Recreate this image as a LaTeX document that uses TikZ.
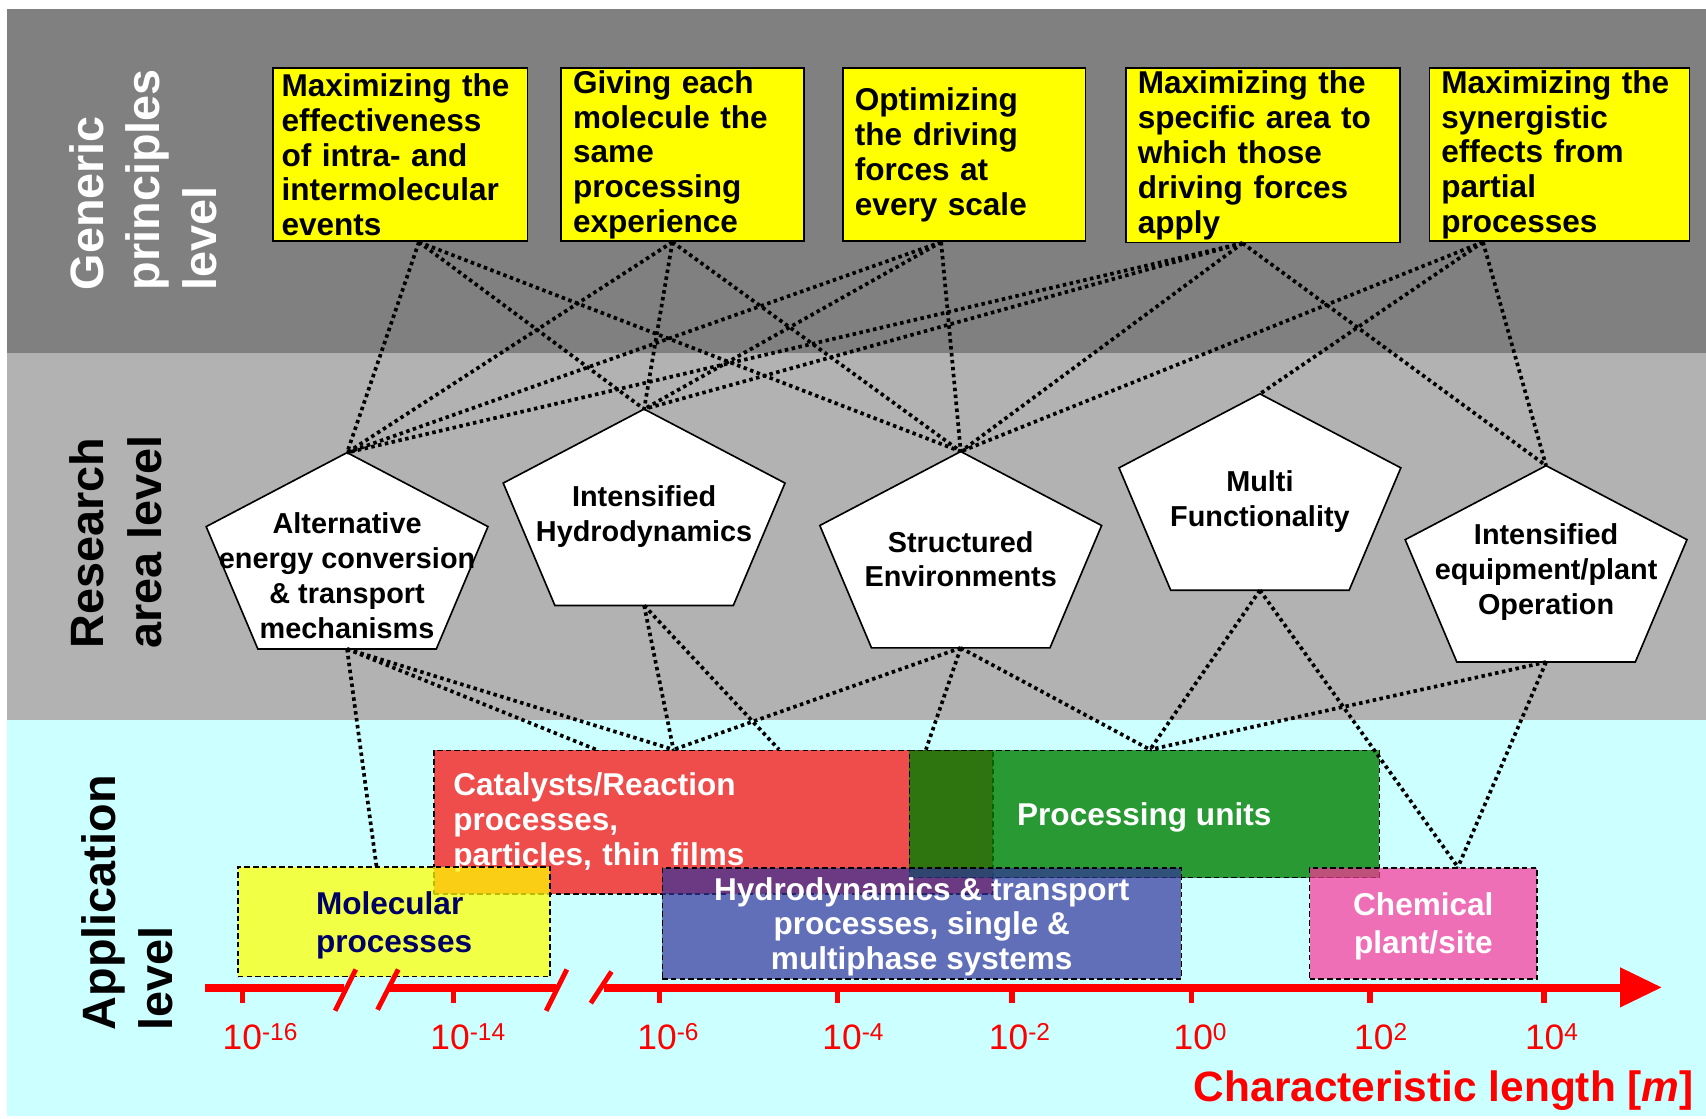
\documentclass[tikz,border=0pt]{standalone}
\usepackage{fontspec}
\setmainfont{Liberation Sans}
\usetikzlibrary{calc}

\definecolor{bandtop}{RGB}{128,128,128}
\definecolor{bandmid}{RGB}{178,178,178}
\definecolor{bandlow}{RGB}{204,255,255}
\definecolor{principlefill}{RGB}{255,255,0}
\definecolor{catred}{RGB}{255,0,0}
\definecolor{procgreen}{RGB}{0,128,0}
\definecolor{molyellow}{RGB}{255,255,0}
\definecolor{hydroblue}{RGB}{51,51,153}
\definecolor{plantpink}{RGB}{255,51,153}
\definecolor{molnavy}{RGB}{0,0,102}
\definecolor{scalered}{RGB}{255,0,0}

\newcommand{\sciexp}[1]{10\raisebox{8.5pt}{\fontsize{22.5}{22.5}\selectfont #1}}

\tikzset{
  rowlabel/.style={rotate=90, anchor=base west, inner sep=0pt,
    font=\fontsize{43}{43}\selectfont\bfseries},
  principle/.style={draw=black, line width=1.5pt, fill=principlefill,
    anchor=north west, inner ysep=0pt, inner xsep=11pt, align=left,
    minimum height=159pt,
    font=\fontsize{29}{32}\selectfont\bfseries},
  pentext/.style={align=center, inner sep=0pt,
    font=\fontsize{26.5}{32}\selectfont\bfseries},
  appbox/.style={draw=black, line width=1.4pt, dash pattern=on 5pt off 3pt,
    anchor=north west, inner sep=0pt, text=white, text opacity=1,
    font=\fontsize{29}{32}\selectfont\bfseries},
  link/.style={black, line width=3.4pt, dash pattern=on 3.2pt off 3.2pt},
  scaleline/.style={draw=scalered, line width=7pt},
  scaleslash/.style={draw=scalered, line width=4.5pt},
  scaletick/.style={draw=scalered, line width=5pt},
  scalelabel/.style={anchor=base, inner sep=0pt, text=scalered,
    font=\fontsize{32.5}{32.5}\selectfont},
  pentagon/.pic={
    \draw[line width=1.5pt, fill=white] (0,0) coordinate (-top)
      -- (129.5,68) -- (82,180.5) -- (-82,180.5) -- (-129.5,68) -- cycle;
    \coordinate (-bot) at (0,180.5);
  }
}

\begin{document}
\begin{tikzpicture}[x=1pt, y=-1pt]
\useasboundingbox (0,0) rectangle (1568,1028);

% level bands
\fill[white] (0,0) rectangle (1568,1028);
\fill[bandtop] (6,8) rectangle (1568,324);
\fill[bandmid] (6,324) rectangle (1568,662);
\fill[bandlow] (6,662) rectangle (1568,1026);

% level titles
\node[rowlabel, text=white] (genA) at (95,267) {Generic};
\node[rowlabel, text=white] (genB) at (147,267) {principles};
\node[rowlabel, text=white] (genC) at (199,267) {level};
\node[rowlabel] (resA) at (95,596) {Research};
\node[rowlabel] (resB) at (148,596) {area level};
\node[rowlabel] (appA) at (106,947) {Application};
\node[rowlabel] (appB) at (159,947) {level};

% generic principles
\node[principle, text width=218pt, inner xsep=8pt] (gp1) at (250,62)
  {Maximizing the\\effectiveness\\of intra- and\\intermolecular\\events};
\node[principle, text width=201pt] (gp2) at (515,62)
  {Giving each\\molecule the\\same\\processing\\experience};
\node[principle, text width=201pt] (gp3) at (774,62)
  {Optimizing\\the driving\\forces at\\every scale};
\node[principle, text width=230pt, minimum height=160pt] (gp4) at (1034,62)
  {Maximizing the\\specific area to\\which those\\driving forces\\apply};
\node[principle, text width=217pt] (gp5) at (1313,62)
  {Maximizing the\\synergistic\\effects from\\partial\\processes};

% research areas
\pic (ra1) at (319,416) {pentagon};
\pic (ra2) at (592,376) {pentagon};
\pic (ra3) at (883,415) {pentagon};
\pic (ra4) at (1158,362) {pentagon};
\pic (ra5) at (1421,428) {pentagon};
\node[pentext] (ra1t) at (319,529) {Alternative\\energy conversion\\\& transport\\mechanisms};
\node[pentext] (ra2t) at (592,475) {Intensified\\Hydrodynamics};
\node[pentext] (ra3t) at (883,514) {Structured\\Environments};
\node[pentext] (ra4t) at (1158,461) {Multi\\Functionality};
\node[pentext] (ra5t) at (1421,526) {Intensified\\equipment/plant\\Operation};

% application fields
\node[appbox, fill=catred, fill opacity=0.7, minimum width=514pt,
  minimum height=132pt, text width=478pt, align=left] (cat) at (398,689)
  {Catalysts/Reaction\\processes,\\particles, thin films};
\node[appbox, fill=procgreen, fill opacity=0.8, minimum width=432pt,
  minimum height=117pt, text depth=0pt] (proc) at (835,689) {Processing units};
\node[appbox, fill=molyellow, fill opacity=0.73, text=molnavy,
  minimum width=287pt, minimum height=101pt, align=left, text depth=0pt,
  font=\fontsize{29}{35}\selectfont\bfseries] (mol) at (218,796)
  {Molecular\\processes};
\node[appbox, fill=hydroblue, fill opacity=0.7, minimum width=477pt,
  minimum height=102pt, align=center, text depth=0pt] (hydro) at (608,797)
  {Hydrodynamics \& transport\\processes, single \&\\multiphase systems};
\node[appbox, fill=plantpink, fill opacity=0.7, minimum width=209pt,
  minimum height=102pt, align=center, text depth=0pt,
  font=\fontsize{29}{35}\selectfont\bfseries] (plant) at (1203,797)
  {Chemical\\plant/site};

% principles -> research areas
\draw[link] ([xshift=135pt]gp1.south west) -- (ra1-top);
\draw[link] ([xshift=135pt]gp1.south west) -- (ra2-top);
\draw[link] ([xshift=135pt]gp1.south west) -- (ra3-top);
\draw[link] ([xshift=103pt]gp2.south west) -- (ra1-top);
\draw[link] ([xshift=103pt]gp2.south west) -- (ra2-top);
\draw[link] ([xshift=103pt]gp2.south west) -- (ra3-top);
\draw[link] ([xshift=91pt]gp3.south west) -- (ra1-top);
\draw[link] ([xshift=91pt]gp3.south west) -- (ra2-top);
\draw[link] ([xshift=91pt]gp3.south west) -- (ra3-top);
\draw[link] ([xshift=108pt]gp4.south west) -- (ra1-top);
\draw[link] ([xshift=108pt]gp4.south west) -- (ra2-top);
\draw[link] ([xshift=108pt]gp4.south west) -- (ra3-top);
\draw[link] ([xshift=108pt]gp4.south west) -- (ra5-top);
\draw[link] ([xshift=50pt]gp5.south west) -- (ra3-top);
\draw[link] ([xshift=50pt]gp5.south west) -- (ra4-top);
\draw[link] ([xshift=50pt]gp5.south west) -- (ra5-top);

% research areas -> applications
\draw[link] (ra1-bot) -- ([xshift=128pt]mol.north west);
\draw[link] (ra1-bot) -- ([xshift=150pt]cat.north west);
\draw[link] (ra1-bot) -- ([xshift=221pt]cat.north west);
\draw[link] (ra2-bot) -- ([xshift=221pt]cat.north west);
\draw[link] (ra2-bot) -- ([xshift=318pt]cat.north west);
\draw[link] (ra3-bot) -- ([xshift=221pt]cat.north west);
\draw[link] (ra3-bot) -- ([xshift=453pt]cat.north west);
\draw[link] (ra3-bot) -- ([xshift=222pt]proc.north west);
\draw[link] (ra4-bot) -- ([xshift=222pt]proc.north west);
\draw[link] (ra4-bot) -- ([xshift=137pt]plant.north west);
\draw[link] (ra5-bot) -- ([xshift=222pt]proc.north west);
\draw[link] (ra5-bot) -- ([xshift=137pt]plant.north west);

% length scale with breaks
\draw[scaleline] (188,908) -- (316,908);
\draw[scaleline] (357,908) -- (511,908);
\draw[scaleline] (555,908) -- (1492,908);
\draw[scaleslash] (308,929) -- (327,891);
\draw[scaleslash] (347,928) -- (366,891);
\draw[scaleslash] (502,929) -- (521,891);
\draw[scaleslash] (543,922) -- (562,893);
\fill[scalered] (1489,889) -- (1527,907.5) -- (1489,926) -- cycle;
\foreach \t in {223,417,606,770,930,1095,1259,1419}
  \draw[scaletick] (\t,908) -- (\t,922);

\node[scalelabel] (s1) at (239,965) {\sciexp{-16}};
\node[scalelabel] (s2) at (430,965) {\sciexp{-14}};
\node[scalelabel] (s3) at (614,965) {\sciexp{-6}};
\node[scalelabel] (s4) at (784,965) {\sciexp{-4}};
\node[scalelabel] (s5) at (937,965) {\sciexp{-2}};
\node[scalelabel] (s6) at (1103,965) {\sciexp{0}};
\node[scalelabel] (s7) at (1269,965) {\sciexp{2}};
\node[scalelabel] (s8) at (1426,965) {\sciexp{4}};

\node[anchor=base east, inner sep=0pt, text=scalered,
  font=\fontsize{39}{39}\selectfont\bfseries] (axtitle) at (1557,1012)
  {Characteristic length [\textit{m}]};
\end{tikzpicture}
\end{document}
